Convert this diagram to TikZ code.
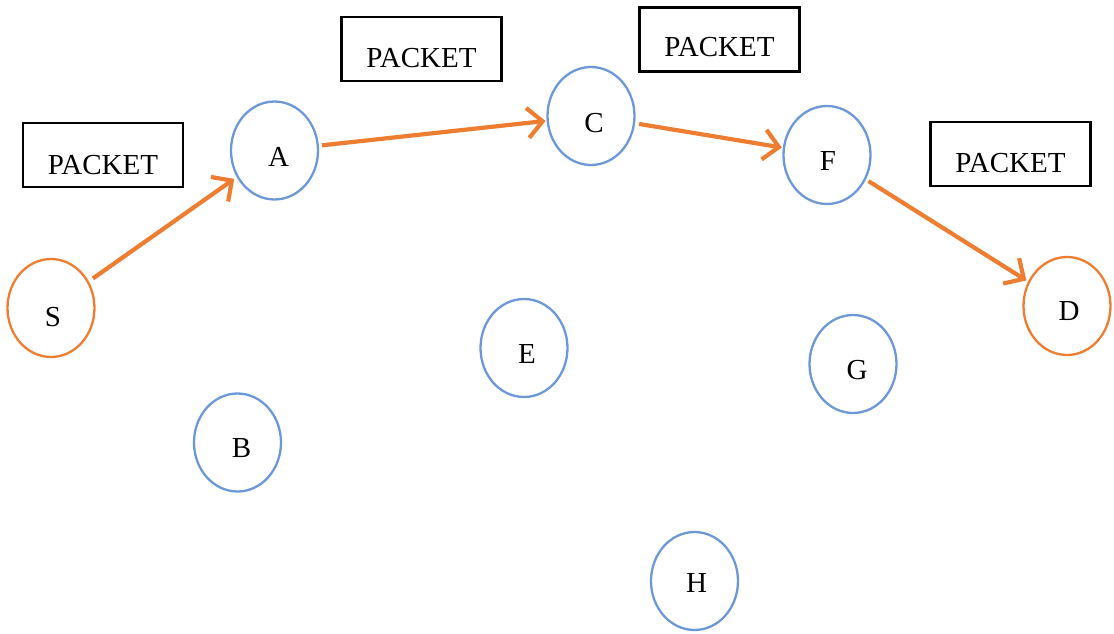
\documentclass[tikz,border=0pt]{standalone}
\usepackage{fontspec}
\setmainfont{Liberation Serif}
\usetikzlibrary{shapes.geometric,arrows.meta}
\definecolor{hopcol}{RGB}{237,125,49}
\definecolor{nodecol}{RGB}{108,152,216}
\begin{document}
\begin{tikzpicture}[x=1pt,y=-1pt,
  font=\fontsize{29}{34}\selectfont,
  station/.style={ellipse,draw=nodecol,line width=2.3pt,minimum width=87pt,minimum height=98pt,inner sep=0pt},
  endpoint/.style={station,draw=hopcol},
  pkt/.style={draw=black,line width=2.2pt,minimum width=160pt,minimum height=64pt,inner sep=0pt},
  hop/.style={draw=hopcol,line width=4.2pt,-{Straight Barb[length=15pt,width=30pt,line width=4.2pt]}}]
\useasboundingbox (0,0) rectangle (1114,634);

% packet boxes
\node[pkt,label={[yshift=-10pt]center:PACKET}] (p1) at (103,155) {};
\node[pkt,label={[yshift=-9pt]center:PACKET}] (p2) at (421.5,49) {};
\node[pkt,label={[yshift=-8pt]center:PACKET}] (p3) at (719.5,39.5) {};
\node[pkt,label={[yshift=-9pt]center:PACKET}] (p4) at (1010.5,154) {};

% source and destination
\node[endpoint,label={[yshift=-9pt,xshift=2pt]center:S}] (S) at (51,308) {};
\node[endpoint,label={[yshift=-5pt,xshift=2pt]center:D}] (D) at (1067,306) {};

% relay stations
\node[station,label={[yshift=-6pt,xshift=4pt]center:A}] (A) at (274.5,150.5) {};
\node[station,label={[yshift=-7pt,xshift=3pt]center:C}] (C) at (591,116) {};
\node[station,label={[yshift=-6pt,xshift=1pt]center:F}] (F) at (827,155) {};
\node[station,label={[yshift=-6pt,xshift=3pt]center:E}] (E) at (524,348) {};
\node[station,label={[yshift=-6pt,xshift=4pt]center:G}] (G) at (853,364) {};
\node[station,label={[yshift=-6pt,xshift=4pt]center:B}] (B) at (237.5,442.5) {};
\node[station,label={[yshift=-2pt,xshift=2pt]center:H}] (H) at (694.5,581) {};

% packet route
\draw[hop,shorten <=5pt,shorten >=3pt] (S) -- (A);
\draw[hop,shorten <=3pt,shorten >=1pt] (A) -- (C);
\draw[hop,shorten <=4pt,shorten >=1pt] (C) -- (F);
\draw[hop,shorten <=3pt,shorten >=2pt] (F) -- (D);
\end{tikzpicture}
\end{document}
